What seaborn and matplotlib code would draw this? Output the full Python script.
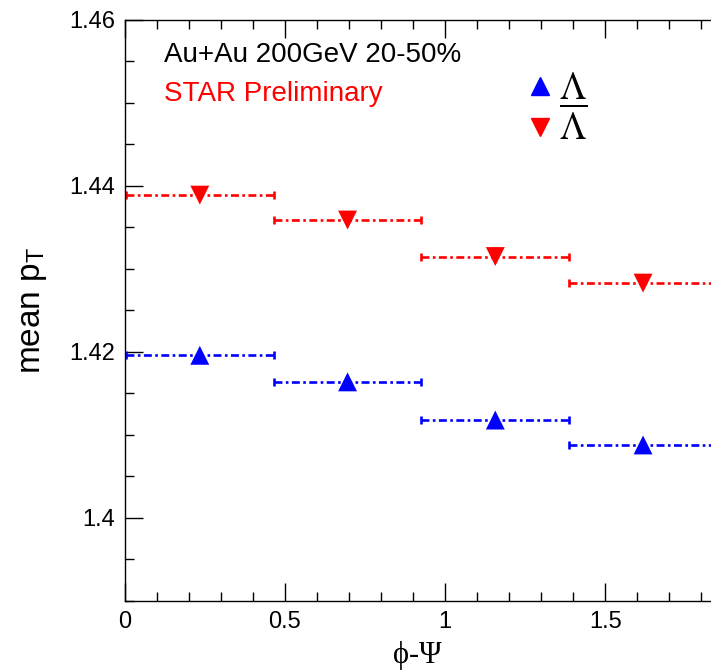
import numpy as np
import pandas as pd
import matplotlib
matplotlib.use("Agg")
import matplotlib.pyplot as plt
import seaborn as sns
from matplotlib.lines import Line2D
from matplotlib.ticker import MultipleLocator, FuncFormatter

# ---- data ----
phi_centers = [0.235, 0.696, 1.157, 1.618]
phi_halfwidth = [0.2305, 0.2305, 0.2305, 0.2305]
lambda_mean_pt = [1.4196, 1.4164, 1.4118, 1.4088]
antilambda_mean_pt = [1.4389, 1.4359, 1.4315, 1.4283]
species = ["Lambda", "AntiLambda"]
colors = {"Lambda": "#0000ff", "AntiLambda": "#ff0000"}
markers = {"Lambda": "^", "AntiLambda": "v"}

df = pd.DataFrame({
    "phi": phi_centers * 2,
    "xerr": phi_halfwidth * 2,
    "meanpt": lambda_mean_pt + antilambda_mean_pt,
    "species": ["Lambda"] * 4 + ["AntiLambda"] * 4,
})

sns.set_style("ticks")
plt.rcParams["font.family"] = ["Liberation Sans", "DejaVu Sans"]
plt.rcParams["mathtext.fontset"] = "stix"
plt.rcParams["text.color"] = "black"
plt.rcParams["axes.labelcolor"] = "black"
plt.rcParams["xtick.color"] = "black"
plt.rcParams["ytick.color"] = "black"
plt.rcParams["axes.edgecolor"] = "black"

fig = plt.figure(figsize=(7.11, 6.70), dpi=100)
ax = fig.add_axes([124.5 / 711, 1 - 601 / 670, 1 - 124.5 / 711, (601 - 20) / 670])

# horizontal error bars (dash-dot, small caps)
for sp in species:
    d = df[df.species == sp]
    eb = ax.errorbar(d.phi, d.meanpt, xerr=d.xerr, fmt="none", ecolor=colors[sp],
                     elinewidth=1.9, capsize=3.0, capthick=1.9, zorder=2)
    for lc in eb.lines[2]:
        lc.set_linestyle((0, (3.0, 1.3, 1.0, 1.3)))

sns.scatterplot(data=df, x="phi", y="meanpt", hue="species", style="species",
                palette=colors, markers=markers, s=185, edgecolor="none",
                legend=False, ax=ax, zorder=3)

ax.set_xlim(0, 1.830)
ax.set_ylim(1.39, 1.46)
ax.xaxis.set_major_locator(MultipleLocator(0.5))
ax.xaxis.set_minor_locator(MultipleLocator(0.1))
ax.yaxis.set_major_locator(MultipleLocator(0.02))
ax.yaxis.set_minor_locator(MultipleLocator(0.005))
ax.xaxis.set_major_formatter(FuncFormatter(lambda v, p: "%g" % round(v, 3)))
ax.yaxis.set_major_formatter(FuncFormatter(lambda v, p: "%g" % round(v, 3)))

ax.spines["right"].set_visible(False)
for s in ["left", "bottom", "top"]:
    ax.spines[s].set_linewidth(1.0)
ax.tick_params(which="both", direction="in", top=True, right=False, width=1.0,
               labelsize=17, pad=7, colors="black")
ax.tick_params(which="major", length=13)
ax.tick_params(which="minor", length=6.5)

ax.set_xlabel("ϕ-Ψ", family=["Liberation Serif", "DejaVu Serif"], fontsize=22, labelpad=6)
ax.set_ylabel("mean p$_{\\mathregular{T}}$", fontsize=24, labelpad=14)

ax.text(0.068, 0.94, "Au+Au 200GeV 20-50%", transform=ax.transAxes,
        fontsize=20, color="black", va="center", ha="left")
ax.text(0.068, 0.873, "STAR Preliminary", transform=ax.transAxes,
        fontsize=20, color="#ff0000", va="center", ha="left")

handles = [Line2D([], [], ls="none", marker="^", color=colors["Lambda"], markersize=13),
           Line2D([], [], ls="none", marker="v", color=colors["AntiLambda"], markersize=13)]
leg = ax.legend(handles, [r"$\Lambda$", r"$\overline{\Lambda}$"], loc="upper left",
                bbox_to_anchor=(529 / 711, 1 - 71 / 670), bbox_transform=fig.transFigure,
                frameon=False, fontsize=27,
                handlelength=0.6, handletextpad=0.2, labelspacing=0.02,
                borderaxespad=0, borderpad=0)

fig.savefig("out.png", dpi=100)
